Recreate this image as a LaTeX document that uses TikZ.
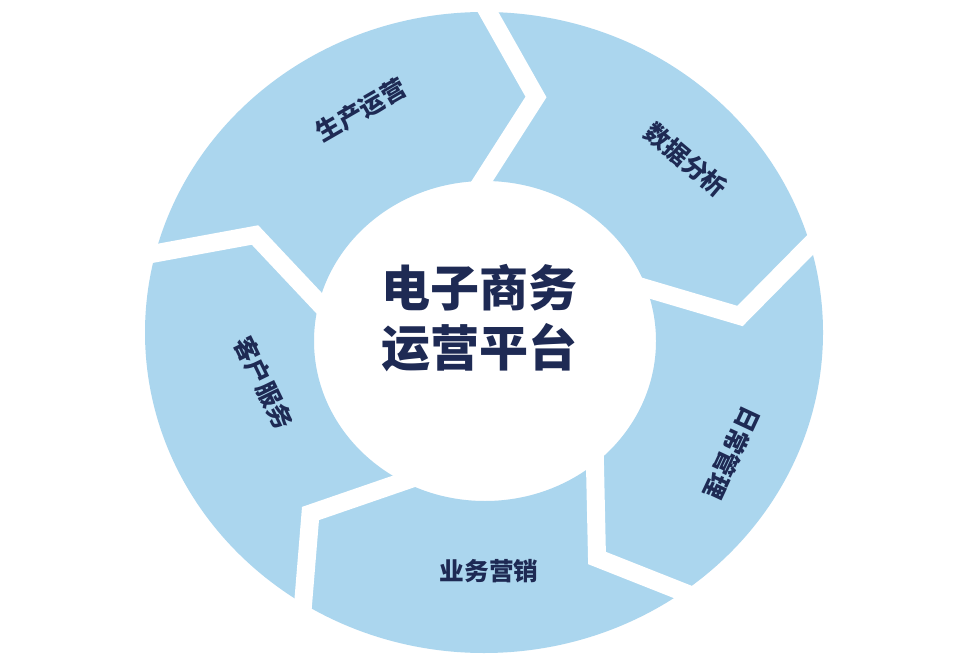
\documentclass[tikz,border=0pt]{standalone}
\usepackage{fontspec}
\newfontfamily\cjk{Noto Sans CJK SC}
\usetikzlibrary{calc}
\definecolor{segblue}{RGB}{171,214,238}
\definecolor{navy}{RGB}{30,42,84}
\begin{document}
\begin{tikzpicture}[x=0.75pt,y=-0.75pt,
  gapline/.style={draw=white, line width=13.5pt, line join=miter, miter limit=10},
  lbl/.style={text=navy, font=\cjk\bfseries\fontsize{18.5}{20}\selectfont, inner sep=0pt},
  title/.style={text=navy, font=\cjk\bfseries\fontsize{36.75}{44.6}\selectfont, align=center, inner sep=0pt}]
\useasboundingbox[fill=white] (0,0) rectangle (962,666);
% ring
\fill[segblue, even odd rule] (484,332.5) ellipse [x radius=339, y radius=320.5]
      (485,341) ellipse [x radius=171, y radius=160];
% chevron boundaries (outer end, tip, inner end)
\coordinate (oA) at (157,253);   \coordinate (tA) at (255,235);   \coordinate (iA) at (319,303);
\coordinate (oB) at (488,12);    \coordinate (tB) at (536,97);    \coordinate (iB) at (488,172);
\coordinate (oC) at (812,243);   \coordinate (tC) at (740,316);   \coordinate (iC) at (652,290);
\coordinate (oD) at (693,596);   \coordinate (tD) at (597,558);   \coordinate (iD) at (595,466);
\coordinate (oE) at (302.5,611); \coordinate (tE) at (310.5,513.5); \coordinate (iE) at (400.5,482.5);
\foreach \k in {A,B,C,D,E}{
  \draw[gapline] ($(t\k)!1.3!(o\k)$) -- (t\k) -- ($(t\k)!1.3!(i\k)$);
}
% labels
\node[lbl, rotate=30]   (l1) at (361,110) {生产运营};
\node[lbl, rotate=-40]  (l2) at (686,160) {数据分析};
\node[lbl, rotate=-115] (l3) at (732,453) {日常管理};
\node[lbl]              (l4) at (489,571) {业务营销};
\node[lbl, rotate=-64]  (l5) at (264,383) {客户服务};
\node[title] (c) at (479,318) {电子商务\\运营平台};
\end{tikzpicture}
\end{document}
